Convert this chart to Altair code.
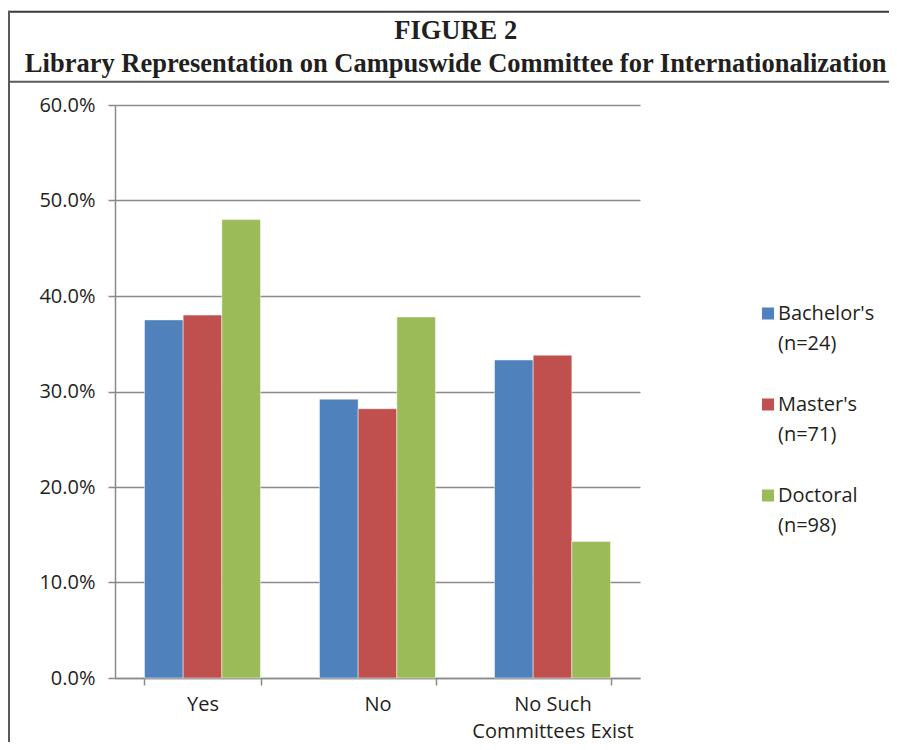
import altair as alt
import pandas as pd

# ---- data ----
categories = ["Yes", "No", "No Such Committees Exist"]
category_labels = ["Yes", "No", "No Such|Committees Exist"]
series = ["Bachelor's|(n=24)", "Master's|(n=71)", "Doctoral|(n=98)"]
bachelors = [0.375, 0.292, 0.333]
masters = [0.380, 0.282, 0.338]
doctoral = [0.480, 0.378, 0.143]
colors = ["#4F81BD", "#C0504D", "#9BBB59"]
y_ticks = [0.0, 0.1, 0.2, 0.3, 0.4, 0.5, 0.6]
title_lines = [
    "FIGURE 2",
    "Library Representation on Campuswide Committee for Internationalization",
]

rows = []
for s, vals in zip(series, [bachelors, masters, doctoral]):
    for c, lab, v in zip(categories, category_labels, vals):
        rows.append({"category": lab, "series": s, "value": v})
df = pd.DataFrame(rows)

TEXT = "#231F20"
GRID = "#8A8A8A"
FONT = "Open Sans"

PW, PH = 525, 573

bars = alt.Chart(df).mark_bar(stroke="white", strokeWidth=0.8, strokeOpacity=0.6).encode(
    x=alt.X(
        "category:N",
        sort=category_labels,
        scale=alt.Scale(paddingInner=0.337, paddingOuter=0.1685),
        axis=alt.Axis(
            title=None,
            labelAngle=0,
            labelExpr="split(datum.label, '|')",
            labelFont=FONT,
            labelFontSize=20,
            labelLineHeight=26.5,
            labelColor=TEXT,
            labelPadding=9.5,
            tickBand="extent",
            tickSize=7,
            tickColor=GRID,
            tickWidth=1.5,
            domainColor=GRID,
            domainWidth=1.5,
            grid=False,
        ),
    ),
    xOffset=alt.XOffset("series:N", sort=series, scale=alt.Scale(paddingInner=0, paddingOuter=0)),
    y=alt.Y(
        "value:Q",
        scale=alt.Scale(domain=[0, 0.6], nice=False),
        axis=alt.Axis(
            title=None,
            values=y_ticks,
            format=".1%",
            labelFont=FONT,
            labelFontSize=20,
            labelColor=TEXT,
            labelPadding=13,
            tickSize=7,
            tickColor=GRID,
            tickWidth=1.5,
            domainColor=GRID,
            domainWidth=1.5,
            grid=True,
            gridColor=GRID,
            gridWidth=1.5,
        ),
    ),
    color=alt.Color(
        "series:N",
        sort=series,
        scale=alt.Scale(domain=series, range=colors),
        legend=alt.Legend(
            title=None,
            orient="none",
            legendX=643,
            legendY=198.5,
            symbolType="square",
            symbolSize=144,
            symbolStrokeWidth=0,
            labelExpr="split(datum.label, '|')",
            labelFont=FONT,
            labelFontSize=20,
            labelColor=TEXT,
            labelOffset=0,
            labelBaseline="middle",
            rowPadding=41,
            padding=0,
        ),
    ),
)

frame_src = pd.DataFrame({"k": [0]})
top_line = alt.Chart(frame_src).mark_rule(color="#3A3A3A", strokeWidth=2).encode(
    x=alt.value(-107), x2=alt.value(790), y=alt.value(-93.3)
)
divider = alt.Chart(frame_src).mark_rule(color="#5A5A5A", strokeWidth=2).encode(
    x=alt.value(-107), x2=alt.value(790), y=alt.value(-23.3)
)
left_line = alt.Chart(frame_src).mark_rule(color="#5A5A5A", strokeWidth=2).encode(
    x=alt.value(-106), y=alt.value(-94.3), y2=alt.value(660)
)

title_df1 = pd.DataFrame({"t": [title_lines[0]]})
title_df2 = pd.DataFrame({"t": [title_lines[1]]})
title_style = dict(
    font="Liberation Serif", fontSize=26.5, fontWeight="bold", color=TEXT,
    align="center", baseline="alphabetic",
)
title1 = alt.Chart(title_df1).mark_text(**title_style).encode(
    text="t:N", x=alt.value(340.7), y=alt.value(-65.7)
)
title2 = alt.Chart(title_df2).mark_text(**title_style).encode(
    text="t:N", x=alt.value(340.7), y=alt.value(-33.3)
)

chart = alt.layer(bars, top_line, divider, left_line, title1, title2).properties(
    width=PW,
    height=PH,
    autosize=alt.AutoSizeParams(type="none"),
    padding={"left": 107, "top": 97, "right": 249, "bottom": 64},
    background="white",
).configure(
    style={"guide-label": {"lineHeight": 30}},
    view={"stroke": "transparent", "strokeWidth": 0},
)

chart.save("out.html", embed_options={"renderer": "svg", "actions": False})
